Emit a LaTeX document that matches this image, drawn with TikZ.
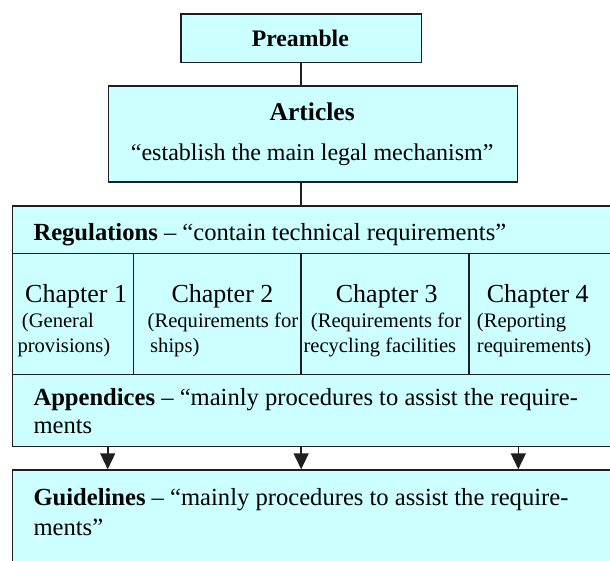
\documentclass[tikz,border=0pt]{standalone}
\usepackage{fontspec}
\setmainfont{Liberation Serif}
\usetikzlibrary{arrows.meta,positioning}
\definecolor{boxcyan}{HTML}{CCFFFF}

\begin{document}
\begin{tikzpicture}[
    x=1pt, y=-1pt,
    box/.style={rectangle, draw=black!88, line width=1.6pt, fill=boxcyan,
                inner sep=0pt, anchor=north west},
    conn/.style={draw=black!88, line width=1.6pt},
    arr/.style={conn, -{Triangle[length=16pt, width=15pt]}},
    lbl/.style={anchor=base west, inner sep=0pt, font=\fontsize{24.6}{29}\selectfont},
    ctr/.style={lbl, anchor=base},
    chap/.style={lbl, font=\fontsize{26}{30}\selectfont},
    sub/.style={lbl, font=\fontsize{20.6}{25}\selectfont},
  ]
  \useasboundingbox (0,0) rectangle (610,561);
  \clip (0,0) rectangle (610,561);
  % boxes
  \node[box, minimum width=240.7pt, minimum height=48.4pt] (pre) at (180,13.3) {};
  \node[box, minimum width=409pt, minimum height=96.3pt] (art) at (107.7,85) {};
  \node[box, minimum width=700pt, minimum height=47.7pt] (reg) at (11.7,205) {};
  \node[box, minimum width=121pt, minimum height=121pt] (ch1) at (11.7,252.7) {};
  \node[box, minimum width=167.3pt, minimum height=121pt] (ch2) at (132.7,252.7) {};
  \node[box, minimum width=168.3pt, minimum height=121pt] (ch3) at (300,252.7) {};
  \node[box, minimum width=300pt, minimum height=121pt] (ch4) at (468.3,252.7) {};
  \node[box, minimum width=700pt, minimum height=72pt] (app) at (11.7,373.7) {};
  \node[box, minimum width=700pt, minimum height=200pt] (gde) at (11.7,469.3) {};
  % connectors
  \draw[conn] (pre.south) -- (pre.south |- art.north);
  \draw[conn] (pre.south |- art.south) -- (pre.south |- reg.north);
  \draw[arr] (art.south west |- app.south) -- (art.south west |- gde.north);
  \draw[arr] (pre.south |- app.south) -- (pre.south |- gde.north);
  \draw[arr] (art.south east |- app.south) -- (art.south east |- gde.north);
  % texts
  \node[ctr, font=\bfseries\fontsize{23.7}{28}\selectfont] (preT) at (300.35,46.7) {Preamble};
  \node[ctr, font=\bfseries\fontsize{25.5}{30}\selectfont] (artT) at (312.2,121) {Articles};
  \node[ctr, font=\fontsize{24}{29}\selectfont] (artS) at (312.2,161) {“establish the main legal mechanism”};
  \node[lbl] (regT) at (33.3,240.7) {\textbf{Regulations} – “contain technical requirements”};
  \node[chap] (ch1T) at (25,302.7) {Chapter 1};
  \node[sub] (ch1a) at (21.7,327.3) {(General};
  \node[sub] (ch1b) at (17.3,352.5) {provisions)};
  \node[chap] (ch2T) at (171.4,302.7) {Chapter 2};
  \node[sub] (ch2a) at (147.5,327.3) {(Requirements for};
  \node[sub] (ch2b) at (150,352.5) {ships)};
  \node[chap] (ch3T) at (335.7,302.7) {Chapter 3};
  \node[sub] (ch3a) at (310.7,327.3) {(Requirements for};
  \node[sub] (ch3b) at (303.3,352.5) {recycling facilities};
  \node[chap] (ch4T) at (486.7,302.7) {Chapter 4};
  \node[sub] (ch4a) at (476.7,327.3) {(Reporting};
  \node[sub] (ch4b) at (476.7,352.5) {requirements)};
  \node[lbl] (appT) at (33.3,405) {\textbf{Appendices} – “mainly procedures to assist the require-};
  \node[lbl] (appS) at (33.3,433.3) {ments};
  \node[lbl] (gdeT) at (33.3,505) {\textbf{Guidelines} – “mainly procedures to assist the require-};
  \node[lbl] (gdeS) at (33.3,535) {ments”};
\end{tikzpicture}
\end{document}
